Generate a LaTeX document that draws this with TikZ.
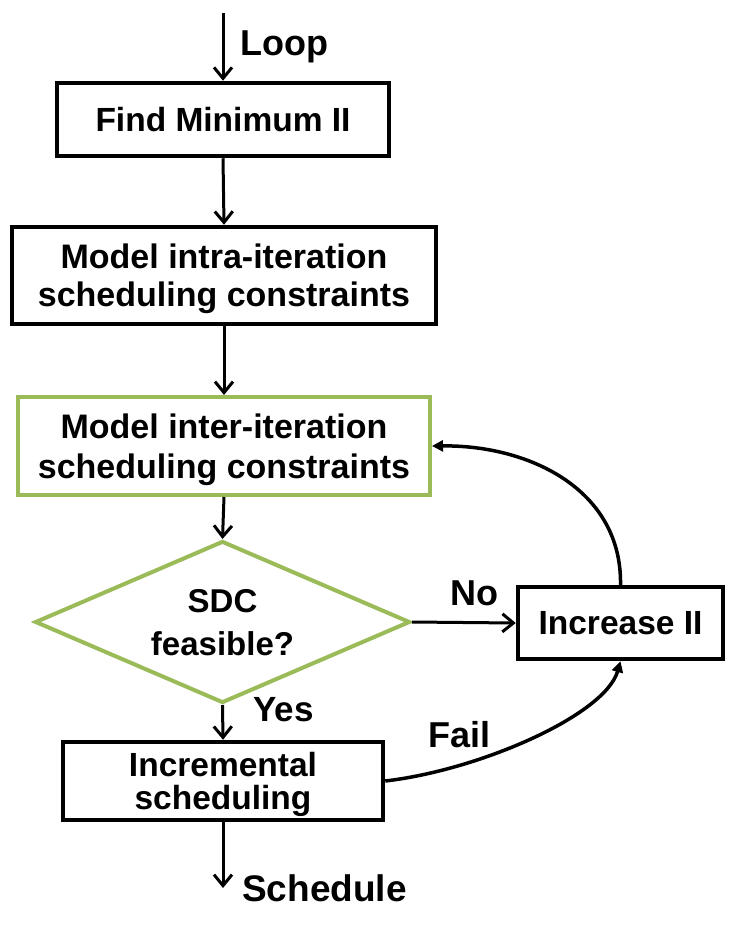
\documentclass[tikz,border=0pt]{standalone}
\usepackage{fontspec}
\setmainfont{Liberation Sans}
\usetikzlibrary{arrows.meta,shapes.geometric}
\definecolor{olivegreen}{HTML}{9BBB59}
\tikzset{
  boxstyle/.style={draw=black, line width=4.5pt, rectangle, inner sep=0pt, align=center, text depth=0pt, font=\bfseries\fontsize{33.5}{40}\selectfont},
  greenbox/.style={draw=olivegreen, line width=4pt, rectangle, inner sep=0pt, align=center, text depth=0pt, font=\bfseries\fontsize{34}{40}\selectfont},
  decision/.style={draw=olivegreen, line width=4pt, diamond, aspect=2.3, inner sep=0pt, align=center, text depth=0pt, font=\bfseries\fontsize{33}{43}\selectfont},
  lbl/.style={anchor=base west, inner sep=0pt, font=\bfseries\fontsize{36}{40}\selectfont},
  flow/.style={line width=3pt, -{Straight Barb[length=11pt,width=18pt,line width=3pt]}},
  loopback/.style={line width=3.5pt, -{Triangle[length=11pt,width=11pt]}}
}
\begin{document}
\begin{tikzpicture}[x=1pt,y=-1pt]
\useasboundingbox (0,0) rectangle (745,940);
\fill[white] (0,0) rectangle (745,940);

\coordinate (start) at (223,13);
\node[boxstyle, minimum width=332pt, minimum height=73pt] (find) at (223,119.5) {Find Minimum II};
\node[boxstyle, font=\bfseries\fontsize{34}{38}\selectfont, minimum width=424pt, minimum height=97pt] (intra) at (224,275.5) {Model intra-iteration\\scheduling constraints};
\node[greenbox, minimum width=412pt, minimum height=98pt] (inter) at (224,446) {Model inter-iteration\\scheduling constraints};
\node[decision, minimum width=375pt, minimum height=162pt] (dia) at (222.5,622) {SDC\\feasible?};
\node[boxstyle, minimum width=205pt, minimum height=72pt] (inc) at (620.5,623) {Increase II};
\node[boxstyle, font=\bfseries\fontsize{33.5}{33}\selectfont, minimum width=320pt, minimum height=78pt] (incr) at (223,781) {Incremental\\scheduling};
\coordinate (end) at (223,888);

\node[lbl] (looplbl) at (240,55) {Loop};
\node[lbl, font=\bfseries\fontsize{35}{40}\selectfont] (yeslbl) at (253,721) {Yes};
\node[lbl] (nolbl) at (450,605) {No};
\node[lbl] (faillbl) at (428,747) {Fail};
\node[lbl, font=\bfseries\fontsize{37}{40}\selectfont] (schedlbl) at (242,901) {Schedule};

\draw[flow] (start) -- (find.north);
\draw[flow] (find.south) -- (intra.north);
\draw[flow] (intra.south) -- (inter.north);
\draw[flow] (inter.south) -- (dia.north);
\draw[flow] (dia.east) -- (inc.west);
\draw[flow] (dia.south) -- (incr.north);
\draw[flow] (incr.south) -- (end);

\draw[loopback] (inc.north) .. controls (622,490) and (530,445) .. (inter.east);
\draw[loopback] (incr.east) .. controls (480,770) and (605,715) .. (inc.south);
\end{tikzpicture}
\end{document}
